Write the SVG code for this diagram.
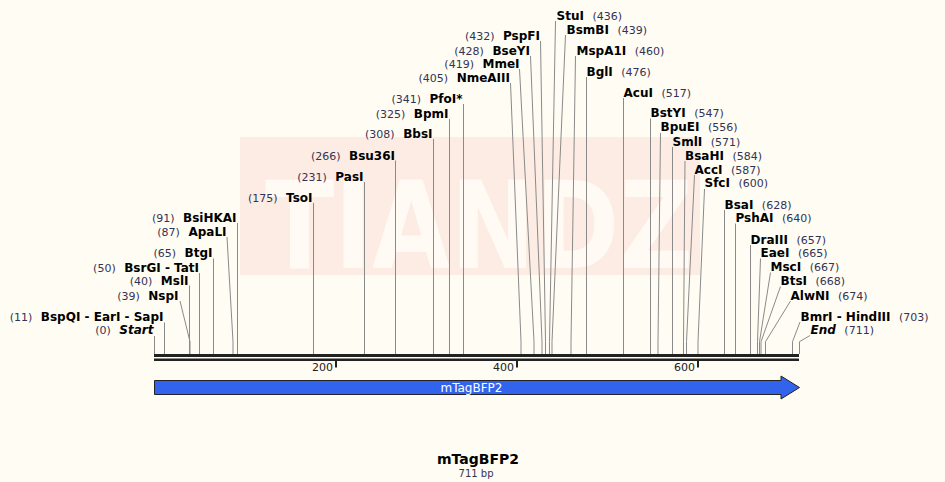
<svg xmlns="http://www.w3.org/2000/svg" width="945" height="482" viewBox="0 0 945 482">
<style>
text{font-family:"DejaVu Sans","Verdana",sans-serif}
.nm{font-weight:bold;font-size:12px;fill:#000}
.it{font-weight:bold;font-style:italic;font-size:12px;fill:#000}
.nu{font-size:11px;fill:#333355}
.ld{fill:none;stroke:#8a8a8a;stroke-width:1}
.tk{font-size:11px;fill:#222}
</style>
<rect width="945" height="482" fill="#FFFCF3"/>
<g id="watermark">
<rect x="240" y="137" width="460" height="138" fill="#FCECE3"/>
<text x="265" y="268" font-size="121" font-weight="bold" fill="#FFFAF4" textLength="428" lengthAdjust="spacingAndGlyphs">TIANDZ</text>
</g>
<g id="connectors">
<polyline class="ld" points="154.5,336 154.5,354"/>
<polyline class="ld" points="164.5,322.5 164.5,354"/>
<polyline class="ld" points="180,301 190,341.7 190,354"/>
<polyline class="ld" points="189.5,285.5 189.5,354"/>
<polyline class="ld" points="199.5,273 199.5,354"/>
<polyline class="ld" points="213.5,258.5 213.5,354"/>
<polyline class="ld" points="227,237 233,341.7 233,354"/>
<polyline class="ld" points="237.5,223 237.5,354"/>
<polyline class="ld" points="313.5,203 313.5,354"/>
<polyline class="ld" points="364.5,182 364.5,354"/>
<polyline class="ld" points="395.5,160.5 395.5,354"/>
<polyline class="ld" points="433.5,139 433.5,354"/>
<polyline class="ld" points="449.5,119 449.5,354"/>
<polyline class="ld" points="463.5,104 463.5,354"/>
<polyline class="ld" points="510.5,83 521,341.7 521,354"/>
<polyline class="ld" points="519.5,69 534,341.7 534,354"/>
<polyline class="ld" points="530.5,56 542,341.7 542,354"/>
<polyline class="ld" points="540.5,41 545.5,341.7 545.5,354"/>
<polyline class="ld" points="555.5,21 549.5,341.7 549.5,354"/>
<polyline class="ld" points="565.5,35 552,341.7 552,354"/>
<polyline class="ld" points="575.5,56 571,341.7 571,354"/>
<polyline class="ld" points="586.5,77 586.5,354"/>
<polyline class="ld" points="623.5,98 623.5,354"/>
<polyline class="ld" points="650.5,118.5 650.5,354"/>
<polyline class="ld" points="660.5,133 658,341.7 658,354"/>
<polyline class="ld" points="672.5,147 672.5,354"/>
<polyline class="ld" points="685,161 683.5,341.7 683.5,354"/>
<polyline class="ld" points="694.5,175 686.5,341.7 686.5,354"/>
<polyline class="ld" points="704.5,189 698,341.7 698,354"/>
<polyline class="ld" points="724.5,210 724.5,354"/>
<polyline class="ld" points="735.5,223.5 735.5,354"/>
<polyline class="ld" points="750.5,245 750.5,354"/>
<polyline class="ld" points="760.5,258.5 757.5,341.7 757.5,354"/>
<polyline class="ld" points="770.5,272.5 759.5,341.7 759.5,354"/>
<polyline class="ld" points="780.5,286.5 761,341.7 761,354"/>
<polyline class="ld" points="790.5,301 765.5,341.7 765.5,354"/>
<polyline class="ld" points="800,322 792.5,341.7 792.5,354"/>
<polyline class="ld" points="810,335.5 799.5,341.7 799.5,354"/>
</g>
<g id="backbone">
<rect x="154" y="354" width="645" height="3" fill="#222"/>
<rect x="154" y="358.5" width="645" height="2.5" fill="#222"/>
<rect x="335" y="361" width="2" height="6.5" fill="#222"/>
<rect x="516" y="361" width="2" height="6.5" fill="#222"/>
<rect x="697" y="361" width="2" height="6.5" fill="#222"/>
<text class="tk" x="333" y="371" text-anchor="end">200</text>
<text class="tk" x="514" y="371" text-anchor="end">400</text>
<text class="tk" x="695" y="371" text-anchor="end">600</text>
</g>
<g id="feature-mTagBFP2">
<path d="M154.5,380.5 H781 V376 L799.5,387.5 L781,399 V394.5 H154.5 Z" fill="#3163EC" stroke="#222" stroke-width="1"/>
<text x="471.5" y="392" text-anchor="middle" font-size="12" fill="#fff">mTagBFP2</text>
</g>
<g id="site-Start"><text x="153.5" y="334" text-anchor="end"><tspan class="nu">(0)</tspan><tspan class="it" dx="8.5">Start</tspan></text></g>
<g id="site-BspQI"><text x="163.5" y="320.5" text-anchor="end"><tspan class="nu">(11)</tspan><tspan class="nm" dx="8.5">BspQI - EarI - SapI</tspan></text></g>
<g id="site-NspI"><text x="178.5" y="299.5" text-anchor="end"><tspan class="nu">(39)</tspan><tspan class="nm" dx="8.5">NspI</tspan></text></g>
<g id="site-MslI"><text x="188.5" y="284.5" text-anchor="end"><tspan class="nu">(40)</tspan><tspan class="nm" dx="8.5">MslI</tspan></text></g>
<g id="site-BsrGI"><text x="199" y="272" text-anchor="end"><tspan class="nu">(50)</tspan><tspan class="nm" dx="8.5">BsrGI - TatI</tspan></text></g>
<g id="site-BtgI"><text x="212.5" y="257" text-anchor="end"><tspan class="nu">(65)</tspan><tspan class="nm" dx="8.5">BtgI</tspan></text></g>
<g id="site-ApaLI"><text x="226.5" y="236" text-anchor="end"><tspan class="nu">(87)</tspan><tspan class="nm" dx="8.5">ApaLI</tspan></text></g>
<g id="site-BsiHKAI"><text x="236.5" y="222" text-anchor="end"><tspan class="nu">(91)</tspan><tspan class="nm" dx="8.5">BsiHKAI</tspan></text></g>
<g id="site-TsoI"><text x="312.5" y="201.5" text-anchor="end"><tspan class="nu">(175)</tspan><tspan class="nm" dx="8.5">TsoI</tspan></text></g>
<g id="site-PasI"><text x="363.5" y="180.5" text-anchor="end"><tspan class="nu">(231)</tspan><tspan class="nm" dx="8.5">PasI</tspan></text></g>
<g id="site-Bsu36I"><text x="395" y="159.5" text-anchor="end"><tspan class="nu">(266)</tspan><tspan class="nm" dx="8.5">Bsu36I</tspan></text></g>
<g id="site-BbsI"><text x="432.5" y="137.5" text-anchor="end"><tspan class="nu">(308)</tspan><tspan class="nm" dx="8.5">BbsI</tspan></text></g>
<g id="site-BpmI"><text x="448.5" y="117.5" text-anchor="end"><tspan class="nu">(325)</tspan><tspan class="nm" dx="8.5">BpmI</tspan></text></g>
<g id="site-PfoI"><text x="462.5" y="102.5" text-anchor="end"><tspan class="nu">(341)</tspan><tspan class="nm" dx="8.5">PfoI*</tspan></text></g>
<g id="site-NmeAIII"><text x="510" y="81.5" text-anchor="end"><tspan class="nu">(405)</tspan><tspan class="nm" dx="8.5">NmeAIII</tspan></text></g>
<g id="site-MmeI"><text x="519.5" y="67.5" text-anchor="end"><tspan class="nu">(419)</tspan><tspan class="nm" dx="8.5">MmeI</tspan></text></g>
<g id="site-BseYI"><text x="530" y="54.5" text-anchor="end"><tspan class="nu">(428)</tspan><tspan class="nm" dx="8.5">BseYI</tspan></text></g>
<g id="site-PspFI"><text x="540" y="39.5" text-anchor="end"><tspan class="nu">(432)</tspan><tspan class="nm" dx="8.5">PspFI</tspan></text></g>
<g id="site-StuI"><text x="556.5" y="19.5"><tspan class="nm">StuI</tspan><tspan class="nu" dx="8.5">(436)</tspan></text></g>
<g id="site-BsmBI"><text x="566.5" y="33.5"><tspan class="nm">BsmBI</tspan><tspan class="nu" dx="8.5">(439)</tspan></text></g>
<g id="site-MspA1I"><text x="576.5" y="54.5"><tspan class="nm">MspA1I</tspan><tspan class="nu" dx="8.5">(460)</tspan></text></g>
<g id="site-BglI"><text x="586.5" y="75.5"><tspan class="nm">BglI</tspan><tspan class="nu" dx="8.5">(476)</tspan></text></g>
<g id="site-AcuI"><text x="623.5" y="96.5"><tspan class="nm">AcuI</tspan><tspan class="nu" dx="8.5">(517)</tspan></text></g>
<g id="site-BstYI"><text x="650.5" y="117"><tspan class="nm">BstYI</tspan><tspan class="nu" dx="8.5">(547)</tspan></text></g>
<g id="site-BpuEI"><text x="660.5" y="131"><tspan class="nm">BpuEI</tspan><tspan class="nu" dx="8.5">(556)</tspan></text></g>
<g id="site-SmlI"><text x="672.5" y="145.5"><tspan class="nm">SmlI</tspan><tspan class="nu" dx="8.5">(571)</tspan></text></g>
<g id="site-BsaHI"><text x="685" y="159.5"><tspan class="nm">BsaHI</tspan><tspan class="nu" dx="8.5">(584)</tspan></text></g>
<g id="site-AccI"><text x="694.5" y="173.5"><tspan class="nm">AccI</tspan><tspan class="nu" dx="8.5">(587)</tspan></text></g>
<g id="site-SfcI"><text x="704.5" y="187"><tspan class="nm">SfcI</tspan><tspan class="nu" dx="8.5">(600)</tspan></text></g>
<g id="site-BsaI"><text x="724.5" y="208.5"><tspan class="nm">BsaI</tspan><tspan class="nu" dx="8.5">(628)</tspan></text></g>
<g id="site-PshAI"><text x="735.5" y="222"><tspan class="nm">PshAI</tspan><tspan class="nu" dx="8.5">(640)</tspan></text></g>
<g id="site-DraIII"><text x="750.5" y="243.5"><tspan class="nm">DraIII</tspan><tspan class="nu" dx="8.5">(657)</tspan></text></g>
<g id="site-EaeI"><text x="760.5" y="257"><tspan class="nm">EaeI</tspan><tspan class="nu" dx="8.5">(665)</tspan></text></g>
<g id="site-MscI"><text x="770.5" y="271"><tspan class="nm">MscI</tspan><tspan class="nu" dx="8.5">(667)</tspan></text></g>
<g id="site-BtsI"><text x="780.5" y="285"><tspan class="nm">BtsI</tspan><tspan class="nu" dx="8.5">(668)</tspan></text></g>
<g id="site-AlwNI"><text x="790.5" y="299.5"><tspan class="nm">AlwNI</tspan><tspan class="nu" dx="8.5">(674)</tspan></text></g>
<g id="site-BmrI"><text x="800.5" y="320.5"><tspan class="nm">BmrI - HindIII</tspan><tspan class="nu" dx="8.5">(703)</tspan></text></g>
<g id="site-End"><text x="810.5" y="334"><tspan class="it">End</tspan><tspan class="nu" dx="8.5">(711)</tspan></text></g>
<g id="title">
<text x="478" y="464" text-anchor="middle" font-size="14" font-weight="bold" fill="#000">mTagBFP2</text>
<text x="476" y="477" text-anchor="middle" font-size="10" fill="#333355">711 bp</text>
</g>
</svg>
